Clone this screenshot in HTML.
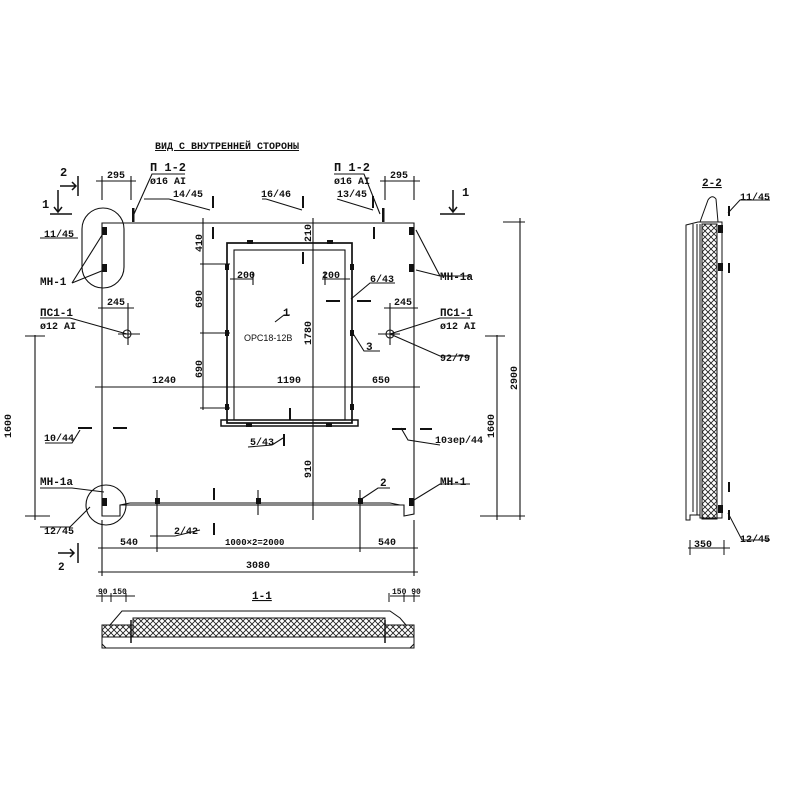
<!DOCTYPE html>
<html><head><meta charset="utf-8"><style>
html,body{margin:0;padding:0;background:#fff;}
svg{display:block;}
text{font-family:"Liberation Mono","DejaVu Sans Mono",monospace;font-weight:bold;font-size:10px;fill:#111;}
.s{font-family:"Liberation Sans",sans-serif;font-weight:normal;font-size:9px;}
</style></head><body>
<svg width="800" height="800" viewBox="0 0 800 800" xmlns="http://www.w3.org/2000/svg">
<defs>
<pattern id="h" width="6" height="6" patternUnits="userSpaceOnUse">
<path d="M0 0L6 6M6 0L0 6" stroke="#222" stroke-width="0.9"/>
</pattern>
</defs>
<g stroke="#111" stroke-width="1.1" fill="none">
<path d="M102 223 L414 223 L414 514 L404 516 L404 505 L120 505 L120 516 L102 516 Z"/>
<path d="M120 505 L130 503 L390 503 L400 505" />
<rect x="227" y="243" width="125" height="180" stroke-width="1.7"/>
<rect x="234" y="250" width="111" height="170"/>
<path d="M221 420 L358 420 L358 426 L221 426 Z" stroke-width="1.5"/>
<line x1="313" y1="218" x2="313" y2="520"/>
<line x1="203" y1="218" x2="203" y2="410"/>
<line x1="95" y1="387" x2="420" y2="387"/>
<line x1="35" y1="335" x2="35" y2="520"/>
<line x1="25" y1="336" x2="45" y2="336"/><line x1="25" y1="516" x2="50" y2="516"/>
<line x1="497" y1="335" x2="497" y2="520"/>
<line x1="485" y1="336" x2="505" y2="336"/>
<line x1="520" y1="218" x2="520" y2="520"/>
<line x1="503" y1="222" x2="525" y2="222"/>
<line x1="480" y1="516" x2="525" y2="516"/>
<line x1="98" y1="548" x2="418" y2="548"/>
<line x1="98" y1="572" x2="418" y2="572"/>
<line x1="102" y1="520" x2="102" y2="576"/><line x1="414" y1="520" x2="414" y2="576"/>
<line x1="157" y1="490" x2="157" y2="552"/><line x1="360" y1="490" x2="360" y2="552"/>
<line x1="258" y1="490" x2="258" y2="515"/>
<line x1="96" y1="181" x2="136" y2="181"/><line x1="102" y1="176" x2="102" y2="200"/><line x1="131" y1="176" x2="131" y2="200"/>
<line x1="380" y1="181" x2="420" y2="181"/><line x1="385" y1="176" x2="385" y2="200"/><line x1="414" y1="176" x2="414" y2="200"/>
<line x1="98" y1="308" x2="134" y2="308"/><line x1="128" y1="303" x2="128" y2="345"/>
<line x1="384" y1="308" x2="418" y2="308"/><line x1="390" y1="303" x2="390" y2="345"/>
<circle cx="127" cy="334" r="4"/><line x1="118" y1="334" x2="140" y2="334"/>
<circle cx="390" cy="334" r="4"/><line x1="378" y1="334" x2="400" y2="334"/>
<line x1="200" y1="264" x2="230" y2="264"/><line x1="200" y1="333" x2="230" y2="333"/>
<line x1="200" y1="408" x2="230" y2="408"/>
<line x1="230" y1="279" x2="253" y2="279"/><line x1="322" y1="279" x2="350" y2="279"/>
<line x1="253" y1="272" x2="253" y2="285"/><line x1="325" y1="272" x2="325" y2="285"/>
<path d="M104 232 L72 283 M104 270 L72 283"/>
<path d="M78 238 L40 238"/>
<path d="M416 230 L440 276 M416 270 L440 276 L470 276"/>
<path d="M127 334 L70 318 L40 318"/><path d="M390 334 L440 318 L470 318"/>
<path d="M390 334 L440 356 L470 356"/>
<path d="M134 214 L152 174 L185 174"/><path d="M380 214 L364 174 L334 174"/>
<path d="M169 199 L210 210 M144 199 L169 199"/>
<path d="M266 199 L302 210 M262 199 L266 199"/>
<path d="M337 199 L373 210"/>
<path d="M351 299 L370 283 L395 283"/>
<path d="M352 332 L364 351 L380 351"/>
<path d="M275 322 L284 315 L290 315"/>
<path d="M45 443 L72 443 L80 430"/>
<path d="M401 428 L408 440 L440 445"/>
<path d="M272 445 L248 447 M272 445 L283 438"/>
<path d="M104 492 L72 488 L40 488"/>
<path d="M90 507 L70 527 L40 527"/>
<path d="M360 500 L378 488 L390 488"/>
<path d="M414 500 L440 484 L470 484"/>
<path d="M200 530 L175 536 L150 536"/>
<rect x="82" y="208" width="42" height="80" rx="21"/>
<circle cx="106" cy="505" r="20"/>
<!-- section marks -->
<path d="M60 186 L76 186 M72 182 L76 186 L72 190 M78 176 L78 196" stroke-width="1.5"/>
<path d="M50 214 L72 214 M58 190 L58 212 M54 207 L58 212 L62 207" stroke-width="1.5"/>
<path d="M440 214 L465 214 M453 190 L453 212 M449 207 L453 212 L457 207" stroke-width="1.5"/>
<path d="M58 553 L74 553 M70 549 L74 553 L70 557 M78 543 L78 563" stroke-width="1.5"/>
</g>
<g fill="#111">
<rect x="132" y="208" width="2.5" height="14"/><rect x="382" y="208" width="2.5" height="14"/>
<rect x="212" y="196" width="2" height="12"/><rect x="302" y="196" width="2" height="12"/><rect x="372" y="196" width="2" height="12"/>
<rect x="212" y="227" width="2" height="12"/><rect x="302" y="252" width="2" height="12"/><rect x="373" y="227" width="2" height="12"/>
<rect x="78" y="427" width="14" height="2"/><rect x="113" y="427" width="14" height="2"/>
<rect x="392" y="428" width="14" height="2"/><rect x="420" y="428" width="12" height="2"/>
<rect x="326" y="300" width="14" height="2"/><rect x="357" y="300" width="14" height="2"/>
<rect x="289" y="408" width="2" height="12"/><rect x="283" y="434" width="2" height="12"/>
<rect x="213" y="488" width="2" height="12"/><rect x="213" y="523" width="2" height="12"/>
<rect x="102" y="227" width="5" height="8"/><rect x="102" y="264" width="5" height="8"/>
<rect x="409" y="227" width="5" height="8"/><rect x="409" y="264" width="5" height="8"/>
<rect x="102" y="498" width="5" height="8"/><rect x="409" y="498" width="5" height="8"/>
<rect x="155" y="498" width="5" height="6"/><rect x="256" y="498" width="5" height="6"/><rect x="358" y="498" width="5" height="6"/>
<rect x="225" y="264" width="4" height="6"/><rect x="225" y="330" width="4" height="6"/><rect x="225" y="404" width="4" height="6"/>
<rect x="350" y="264" width="4" height="6"/><rect x="350" y="330" width="4" height="6"/><rect x="350" y="404" width="4" height="6"/>
<rect x="247" y="240" width="6" height="4"/><rect x="327" y="240" width="6" height="4"/>
<rect x="246" y="423" width="6" height="4"/><rect x="326" y="423" width="6" height="4"/>
</g>
<text x="155" y="149" style="font-size:10px;text-decoration:underline">ВИД С ВНУТРЕННЕЙ СТОРОНЫ</text>
<text x="150" y="171" style="font-size:12px">П 1-2</text><text x="150" y="184">ø16 AI</text>
<text x="334" y="171" style="font-size:12px">П 1-2</text><text x="334" y="184">ø16 AI</text>
<text x="107" y="178">295</text><text x="390" y="178">295</text>
<text x="60" y="176" style="font-size:12px">2</text><text x="42" y="208" style="font-size:12px">1</text>
<text x="462" y="196" style="font-size:12px">1</text>
<text x="173" y="197">14/45</text><text x="261" y="197">16/46</text><text x="337" y="197">13/45</text>
<text x="44" y="237">11/45</text>
<text x="40" y="285" style="font-size:11px">МН-1</text>
<text x="440" y="280" style="font-size:11px">МН-1а</text>
<text x="370" y="282">6/43</text>
<text x="107" y="305">245</text><text x="394" y="305">245</text>
<text x="40" y="316" style="font-size:11px">ПС1-1</text><text x="40" y="329">ø12 AI</text>
<text x="440" y="316" style="font-size:11px">ПС1-1</text><text x="440" y="329">ø12 AI</text>
<text x="440" y="361">92/79</text>
<text x="237" y="278">200</text><text x="322" y="278">200</text>
<text x="283" y="316" style="font-size:11px">1</text>
<text class="s" x="244" y="341">ОРС18-12В</text>
<text x="366" y="350" style="font-size:11px">3</text>
<text x="152" y="383">1240</text><text x="277" y="383">1190</text><text x="372" y="383">650</text>
<text x="44" y="441">10/44</text><text x="435" y="443">10зер/44</text>
<text x="250" y="445">5/43</text>
<text x="40" y="485" style="font-size:11px">МН-1а</text>
<text x="440" y="485" style="font-size:11px">МН-1</text>
<text x="380" y="486" style="font-size:11px">2</text>
<text x="44" y="534">12/45</text><text x="174" y="534">2/42</text>
<text x="120" y="545">540</text><text x="225" y="545" style="font-size:9px">1000×2=2000</text><text x="378" y="545">540</text>
<text x="246" y="568">3080</text>
<text x="58" y="570" style="font-size:11px">2</text>
<text transform="translate(202,252) rotate(-90)">410</text>
<text transform="translate(202,308) rotate(-90)">690</text>
<text transform="translate(202,378) rotate(-90)">690</text>
<text transform="translate(311,242) rotate(-90)">210</text>
<text transform="translate(311,345) rotate(-90)">1780</text>
<text transform="translate(311,478) rotate(-90)">910</text>
<text transform="translate(11,438) rotate(-90)">1600</text>
<text transform="translate(494,438) rotate(-90)">1600</text>
<text transform="translate(517,390) rotate(-90)">2900</text>

<text x="252" y="599" style="font-size:11px;text-decoration:underline">1-1</text>
<text x="98" y="594" style="font-size:8px">90 150</text>
<text x="392" y="594" style="font-size:8px">150 90</text>
<g stroke="#111" fill="none" stroke-width="1">
<path d="M96 596 L135 596 M102 593 L102 602 M111 593 L111 602 M126 593 L126 602"/>
<path d="M390 596 L420 596 M389 593 L389 602 M404 593 L404 602 M414 593 L414 602"/>
<rect x="133" y="618" width="252" height="19" fill="url(#h)"/>
<rect x="102" y="625" width="31" height="12" fill="url(#h)"/>
<rect x="385" y="625" width="29" height="12" fill="url(#h)"/>
<path d="M102 625 L102 648 L414 648 L414 625"/>
<path d="M110 625 L122 611 L390 611 L400 618 L406 625"/>
<path d="M102 644 L106 648 M414 644 L410 648"/>
<line x1="131" y1="620" x2="131" y2="643" stroke-width="1.5"/>
<line x1="385" y1="620" x2="385" y2="643" stroke-width="1.5"/>
</g>

<text x="702" y="186" style="font-size:11px;text-decoration:underline">2-2</text>
<text x="740" y="200">11/45</text>
<text x="740" y="542">12/45</text>
<text x="694" y="547">350</text>
<g stroke="#111" fill="none" stroke-width="1">
<rect x="702" y="224" width="15" height="295" fill="url(#h)"/>
<path d="M686 225 L698 222 L722 222 L722 518 L700 518 L700 515 L690 515 L690 520 L686 520 Z"/>
<line x1="693" y1="224" x2="693" y2="512"/>
<line x1="697" y1="224" x2="697" y2="515"/>
<line x1="700" y1="224" x2="700" y2="515"/>
<path d="M700 222 L708 200 Q712 194 716 199 L718 222"/>
<path d="M728 213 L740 200 L770 200"/>
<path d="M728 513 L742 540 L770 540"/>
<path d="M688 548 L730 548 M690 540 L690 555 M724 540 L724 555"/>
</g>
<g fill="#111">
<rect x="718" y="225" width="5" height="8"/><rect x="718" y="263" width="5" height="8"/><rect x="718" y="505" width="5" height="8"/>
<rect x="728" y="206" width="2" height="10"/><rect x="728" y="263" width="2" height="10"/>
<rect x="728" y="482" width="2" height="10"/><rect x="728" y="510" width="2" height="10"/>
</g>
</svg>
</body></html>
